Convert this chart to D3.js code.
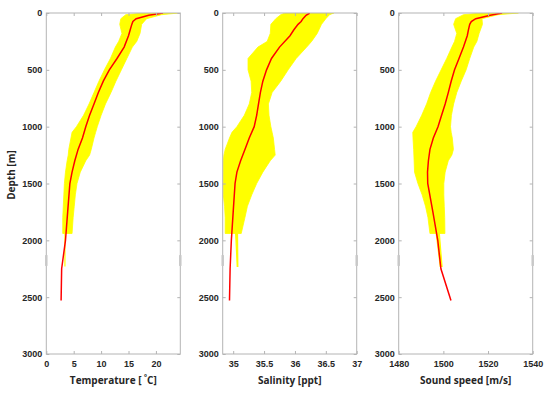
<!DOCTYPE html>
<html>
<head>
<meta charset="utf-8">
<script src="https://cdn.jsdelivr.net/npm/d3@7"></script>
<style>
body { margin: 0; background: #fff; }
svg { display: block; font-family: "Open Sans", sans-serif; }
.axis path { stroke-width: 0; }
.axis line { stroke: #b4b4b4; }
.axis text { font-size: 9px; font-weight: 700; fill: #262626; }
.label { font-size: 10px; font-weight: 700; fill: #262626; }
</style>
</head>
<body>
<div id="chart"></div>
<script>

var width = 550;
var height = 393;
var top_y = 13, bottom_y = 354;
var lefts = [46.3, 222.7, 398.7];
var panel_w = 134;

// mean profiles (red)
var meanDepth = [0, 20, 50, 75, 100, 150, 200, 300, 400, 500, 600, 700, 800, 900, 1000,
                 1100, 1200, 1300, 1400, 1500, 1750, 2000, 2250, 2530];
var tempMean = [21.3, 18.7, 16.4, 15.8, 15.6, 15.3, 15.0, 14.2, 12.9, 11.5, 10.4, 9.5, 8.7, 7.9, 7.2,
                6.6, 5.8, 5.2, 4.7, 4.3, 3.9, 3.5, 2.8, 2.7];
var salMean = [36.24, 36.18, 36.13, 36.10, 36.05, 35.98, 35.92, 35.75, 35.62, 35.54, 35.48, 35.44, 35.41, 35.38, 35.34,
               35.26, 35.19, 35.12, 35.06, 35.03, 35.00, 34.97, 34.95, 34.94];
var ssMean = [1526.3, 1521.0, 1514.5, 1512.5, 1511.8, 1511.2, 1510.7, 1509.0, 1507.0, 1505.0, 1503.5, 1502.2, 1500.8, 1499.2, 1497.6,
              1495.5, 1494.0, 1493.3, 1492.9, 1493.0, 1495.3, 1497.5, 1498.9, 1503.4];

// envelope of all profiles (yellow)
var envDepth = [0, 15, 50, 100, 180, 250, 300, 400, 500, 600, 700, 800, 900, 1000, 1050,
                1100, 1200, 1250, 1300, 1400, 1500, 1600, 1700, 1800, 1940];
var tempMin = [17.7, 14.5, 13.6, 13.4, 13.8, 13.2, 12.6, 11.7, 10.6, 9.6, 8.7, 7.8, 6.8, 5.5, 4.7,
               4.5, 4.1, 4.0, 3.8, 3.5, 3.3, 3.2, 3.1, 3.0, 3.0];
var tempMax = [24.1, 21.0, 18.3, 17.4, 17.1, 16.5, 15.7, 14.7, 13.7, 12.7, 11.8, 10.8, 10.0, 9.3, 9.0,
               8.7, 8.2, 7.9, 7.2, 6.2, 5.6, 5.3, 5.1, 4.9, 4.7];
var salMin = [35.84, 35.77, 35.69, 35.61, 35.60, 35.55, 35.40, 35.24, 35.24, 35.29, 35.30, 35.26, 35.18, 35.06, 34.98,
              34.94, 34.87, 34.85, 34.84, 34.84, 34.84, 34.84, 34.86, 34.87, 34.87];
var salMax = [36.63, 36.56, 36.50, 36.43, 36.36, 36.27, 36.19, 36.02, 35.89, 35.77, 35.63, 35.57, 35.58, 35.61, 35.63,
              35.65, 35.67, 35.68, 35.60, 35.48, 35.38, 35.30, 35.23, 35.19, 35.13];
var ssMin = [1516.9, 1509.0, 1505.5, 1504.6, 1506.0, 1505.0, 1503.8, 1501.5, 1499.0, 1496.5, 1494.3, 1492.5, 1490.3, 1487.8, 1486.3,
             1486.4, 1486.7, 1486.8, 1486.9, 1487.1, 1488.6, 1490.5, 1492.0, 1493.1, 1494.0];
var ssMax = [1533.6, 1524.5, 1517.3, 1517.5, 1516.0, 1515.0, 1513.6, 1511.8, 1510.2, 1508.0, 1506.0, 1504.6, 1503.6, 1503.2, 1503.5,
             1504.0, 1504.5, 1503.8, 1502.2, 1500.8, 1500.2, 1500.2, 1500.4, 1500.6, 1500.7];

// a few deeper profiles below the envelope
var tailDepth = [1940, 2230];
var tempTailMin = [3.4, 3.4], tempTailMax = [3.4, 3.4];
var salTailMin = [35.04, 35.065], salTailMax = [35.07, 35.075];
var ssTailMin = [1496.8, 1498.6], ssTailMax = [1498.2, 1499.4];

var depthTicks = [0, 500, 1000, 1500, 2000, 2500, 3000];
var tempTicks = [0, 5, 10, 15, 20];
var salTicks = [35, 35.5, 36, 36.5, 37];
var ssTicks = [1480, 1500, 1520, 1540];
var axisMark = [2130, 2225];

var panels = [
  {dom: [0, 24.45], ticks: tempTicks, mean: tempMean, lo: tempMin, hi: tempMax,
   tlo: tempTailMin, thi: tempTailMax, label: "temp"},
  {dom: [34.83, 37], ticks: salTicks, mean: salMean, lo: salMin, hi: salMax,
   tlo: salTailMin, thi: salTailMax, label: "Salinity [ppt]"},
  {dom: [1480, 1540], ticks: ssTicks, mean: ssMean, lo: ssMin, hi: ssMax,
   tlo: ssTailMin, thi: ssTailMax, label: "Sound speed [m/s]"}
];

var svg = d3.select("#chart")
  .append("svg")
    .attr("width", width)
    .attr("height", height);

var y_scale = d3.scaleLinear()
    .domain([0, 3000])
    .range([top_y, bottom_y]);

panels.forEach(function(p, i) {
    let x0 = lefts[i];
    let x_scale = d3.scaleLinear()
        .domain(p.dom)
        .range([x0, x0 + panel_w]);

    let clipId = "clip" + i;
    svg.append("clipPath").attr("id", clipId)
      .append("rect")
        .attr("x", x0).attr("y", top_y)
        .attr("width", panel_w).attr("height", bottom_y - top_y);

    let g = svg.append("g").attr("clip-path", "url(#" + clipId + ")");

    let area = d3.area()
        .x0(d => x_scale(d.lo))
        .x1(d => x_scale(d.hi))
        .y(d => y_scale(d.depth));

    let env = envDepth.map((d, k) => ({depth: d, lo: p.lo[k], hi: p.hi[k]}));
    g.append("path")
        .datum(env)
        .attr("fill", "#ffff00")
        .attr("stroke", "#ffff00")
        .attr("stroke-width", 0.8)
        .attr("d", area);

    let tail = tailDepth.map((d, k) => ({depth: d, lo: p.tlo[k], hi: p.thi[k]}));
    g.append("path")
        .datum(tail)
        .attr("fill", "#ffff00")
        .attr("stroke", "#ffff00")
        .attr("stroke-width", 1.2)
        .attr("d", area);

    let line = d3.line()
        .x(d => x_scale(d.v))
        .y(d => y_scale(d.depth));
    g.append("path")
        .datum(meanDepth.map((d, k) => ({depth: d, v: p.mean[k]})))
        .attr("fill", "none")
        .attr("stroke", "#ff0000")
        .attr("stroke-width", 1.5)
        .attr("d", line);

    // axes, ticks pointing inward on all four sides
    svg.append("g")
        .attr("class", "axis")
        .attr("transform", `translate(0,${bottom_y})`)
        .call(d3.axisBottom(x_scale).tickValues(p.ticks)
              .tickSizeInner(-3).tickSizeOuter(0).tickPadding(7)
              .tickFormat(d3.format("")));
    svg.append("g")
        .attr("class", "axis")
        .attr("transform", `translate(0,${top_y})`)
        .call(d3.axisTop(x_scale).tickValues(p.ticks)
              .tickSizeInner(-3).tickSizeOuter(0).tickFormat(""));
    svg.append("g")
        .attr("class", "axis")
        .attr("transform", `translate(${x0},0)`)
        .call(d3.axisLeft(y_scale).tickValues(depthTicks)
              .tickSizeInner(-3).tickSizeOuter(0).tickPadding(4)
              .tickFormat(d3.format("d")));
    svg.append("g")
        .attr("class", "axis")
        .attr("transform", `translate(${x0 + panel_w},0)`)
        .call(d3.axisRight(y_scale).tickValues(depthTicks)
              .tickSizeInner(-3).tickSizeOuter(0).tickFormat(""));

    svg.append("rect")
        .attr("x", x0).attr("y", top_y)
        .attr("width", panel_w).attr("height", bottom_y - top_y)
        .attr("fill", "none")
        .attr("stroke", "#b4b4b4")
        .attr("stroke-width", 1);

    // small thick marks on the vertical box lines
    [x0, x0 + panel_w].forEach(function(xx) {
        svg.append("line")
            .attr("x1", xx).attr("x2", xx)
            .attr("y1", y_scale(axisMark[0])).attr("y2", y_scale(axisMark[1]))
            .attr("stroke", "#c8c8c8")
            .attr("stroke-width", 2.5);
    });

    let lab = svg.append("text")
        .attr("class", "label")
        .attr("x", x0 + panel_w / 2)
        .attr("y", 384)
        .attr("text-anchor", "middle");
    if (p.label == "temp") {
        lab.append("tspan").text("Temperature [ ");
        lab.append("tspan").attr("dy", -4).attr("font-size", "7px").text("°");
        lab.append("tspan").attr("dy", 4).text("C]");
    } else {
        lab.text(p.label);
    }
});

svg.append("text")
    .attr("class", "label")
    .attr("transform", "translate(15,175) rotate(-90)")
    .attr("text-anchor", "middle")
    .text("Depth [m]");

</script>
</body>
</html>
